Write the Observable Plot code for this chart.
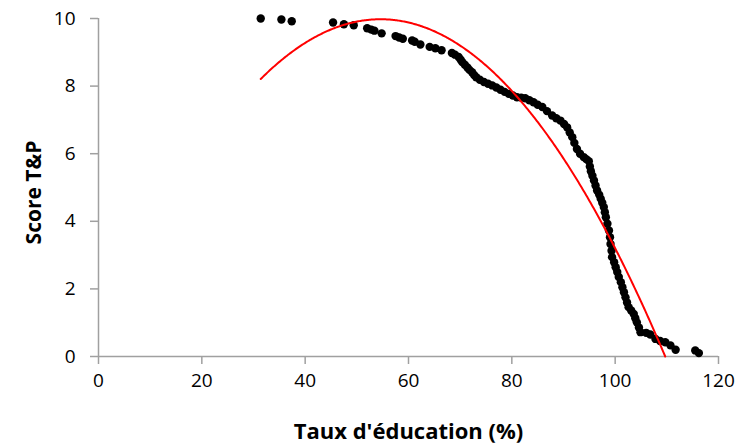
<!DOCTYPE html>
<html>
<head>
<meta charset="utf-8">
<script src="https://cdn.jsdelivr.net/npm/d3@7"></script>
<script src="https://cdn.jsdelivr.net/npm/@observablehq/plot@0.6"></script>
<style>
  html, body { margin: 0; padding: 0; background: #fff; }
  #chart svg { font-family: "Open Sans", Lato, sans-serif; }
</style>
</head>
<body>
<div id="chart"></div>
<script>
// Education rate (%) for each point
const educationRate = [
  31.4, 35.4, 37.4, 45.4, 47.5, 49.4, 52.0, 52.8, 53.4, 54.8,
  57.5, 58.2, 58.9, 60.7, 61.2, 62.3, 64.1, 65.2, 66.4, 68.4,
  69.0, 69.7, 70.1, 70.4, 70.9, 71.4, 71.8, 72.3, 72.7, 73.1,
  73.8, 74.6, 75.4, 76.2, 77.0, 77.8, 78.6, 79.4, 80.2, 81.0,
  81.8, 82.6, 83.4, 84.2, 85.0, 85.9, 86.8, 87.8, 88.6, 89.4,
  90.1, 90.7, 91.2, 91.7, 92.1, 92.6, 93.2, 93.9, 94.4, 94.9,
  95.1, 95.3, 95.6, 95.9, 96.2, 96.5, 96.9, 97.2, 97.5, 97.8,
  98.0, 98.2, 98.5, 98.8, 99.0, 99.1, 99.3, 99.4, 99.8, 100.1,
  100.4, 100.7, 101.1, 101.4, 101.7, 102.0, 102.3, 102.6, 103.1, 103.6,
  103.9, 104.2, 104.6, 104.9, 106.0, 106.8, 107.8, 108.7, 109.7, 110.7,
  111.7, 115.5, 116.2
];
// T&P score for each point
const scoreTP = [
  10.0, 9.97, 9.92, 9.88, 9.83, 9.80, 9.71, 9.67, 9.64, 9.56,
  9.48, 9.44, 9.40, 9.35, 9.31, 9.23, 9.16, 9.12, 9.06, 8.98,
  8.93, 8.86, 8.78, 8.71, 8.63, 8.55, 8.48, 8.41, 8.33, 8.26,
  8.19, 8.12, 8.07, 8.02, 7.96, 7.89, 7.83, 7.77, 7.72, 7.67,
  7.66, 7.64, 7.58, 7.52, 7.45, 7.38, 7.26, 7.13, 7.05, 6.98,
  6.88, 6.78, 6.63, 6.49, 6.32, 6.14, 6.00, 5.90, 5.84, 5.78,
  5.62, 5.48, 5.35, 5.21, 5.06, 4.91, 4.79, 4.67, 4.55, 4.42,
  4.27, 4.12, 3.93, 3.73, 3.53, 3.33, 3.13, 2.94, 2.79, 2.64,
  2.50, 2.35, 2.20, 2.05, 1.90, 1.75, 1.60, 1.46, 1.36, 1.26,
  1.13, 1.01, 0.86, 0.72, 0.70, 0.65, 0.52, 0.46, 0.42, 0.33,
  0.20, 0.18, 0.10
];
// Polynomial (order 2) trend line coefficients: c0 + c1*x + c2*x^2
const trendCoef = [0.181, 0.3589, -0.003287];
const xTicks = [0, 20, 40, 60, 80, 100, 120];
const yTicks = [0, 2, 4, 6, 8, 10];
const xLabel = "Taux d'éducation (%)";
const yLabel = "Score T&P";

const points = educationRate.map((x, i) => ({x, y: scoreTP[i]}));

// trend line evaluated over the data range, kept where y >= 0
const xMin = d3.min(educationRate), xMax = d3.max(educationRate);
const f = x => trendCoef[0] + trendCoef[1] * x + trendCoef[2] * x * x;
const trend = [];
for (let i = 0; i <= 400; i++) {
  const x = xMin + (xMax - xMin) * i / 400;
  const y = f(x);
  if (y >= 0) trend.push({x, y});
}
{
  const [c0, c1, c2] = trendCoef;
  const root = (-c1 - Math.sqrt(c1 * c1 - 4 * c2 * c0)) / (2 * c2);
  if (root > xMin && root < xMax) trend.push({x: root, y: 0});
}

const axisColor = "#a0a0a0";
const fontFam = "'Open Sans', Lato, sans-serif";

const chart = Plot.plot({
  width: 741,
  height: 445,
  marginLeft: 98,
  marginRight: 23,
  marginTop: 18,
  marginBottom: 89,
  style: {fontFamily: fontFam, fontSize: "19px", color: "black", background: "white"},
  x: {domain: [0, 120], ticks: xTicks},
  y: {domain: [0, 10], ticks: yTicks},
  marks: [
    Plot.ruleX([0], {stroke: axisColor, strokeWidth: 1.5}),
    Plot.ruleY([0], {stroke: axisColor, strokeWidth: 1.5}),
    Plot.axisX({ticks: xTicks, tickSize: 8, tickPadding: 9, stroke: axisColor, strokeWidth: 1.5, fill: "black", fontSize: 19, label: null}),
    Plot.axisY({ticks: yTicks, tickSize: 8, tickPadding: 15, stroke: axisColor, strokeWidth: 1.5, fill: "black", fontSize: 19, label: null}),
    Plot.dot(points, {x: "x", y: "y", r: 4.2, fill: "black", stroke: "none"}),
    Plot.line(trend, {x: "x", y: "y", stroke: "red", strokeWidth: 2, sort: "x"}),
    Plot.text([xLabel], {frameAnchor: "bottom", dy: 75, text: d => d, fontWeight: "bold", fontSize: 22, fill: "black", lineAnchor: "middle", textAnchor: "middle"}),
    Plot.text([yLabel], {frameAnchor: "left", dx: -64, dy: 5, rotate: -90, text: d => d, fontWeight: "bold", fontSize: 21, fill: "black", lineAnchor: "middle", textAnchor: "middle"})
  ]
});
document.getElementById("chart").appendChild(chart);
</script>
</body>
</html>
